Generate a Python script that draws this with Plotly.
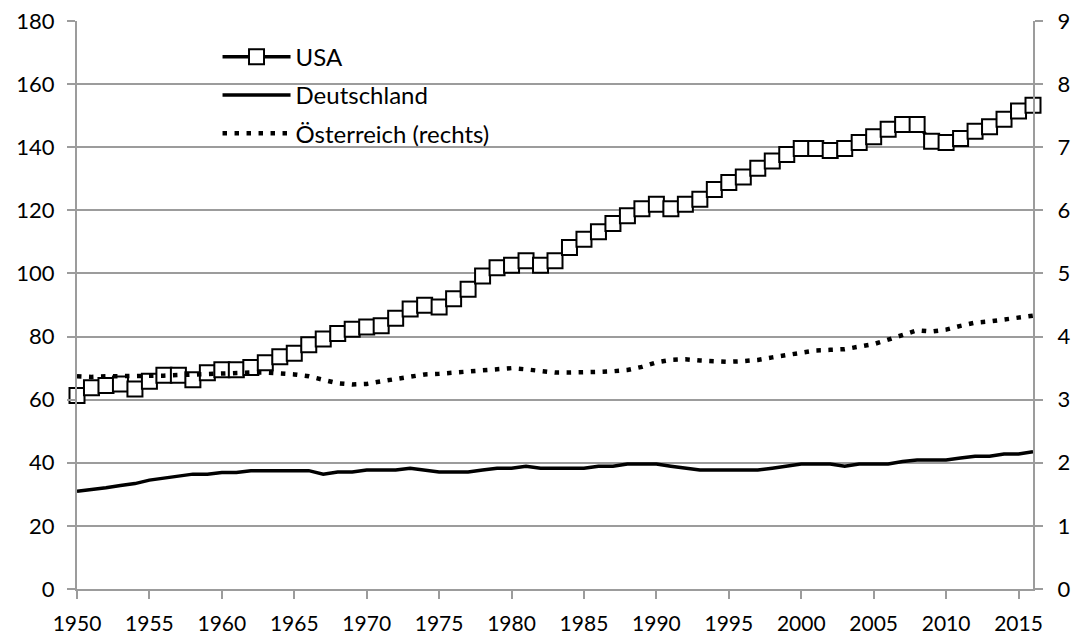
"""
plot.py

Output per hour worked: USA and Deutschland on the left axis,
Österreich on the right axis (dotted line).
"""

import plotly.graph_objects as go

years = list(range(1950, 2017))

usa_values = [
    61.3, 63.8, 64.5, 65.0, 63.4, 65.8, 67.7, 67.7, 66.3, 68.5,
    69.5, 69.5, 70.2, 71.7, 73.6, 74.7, 77.4, 79.2, 81.0, 82.3,
    83.0, 83.4, 85.8, 88.7, 89.9, 89.4, 92.0, 95.0, 99.2, 101.8,
    102.6, 104.0, 102.6, 104.0, 108.2, 110.8, 113.2, 115.8, 118.3, 120.5,
    121.9, 120.5, 121.9, 123.5, 126.6, 128.8, 130.6, 133.3, 135.6, 137.7,
    139.6, 139.6, 139.0, 139.6, 141.5, 143.3, 145.7, 147.2, 147.2, 141.9,
    141.5, 142.8, 145.1, 146.5, 148.9, 151.5, 153.3
]

deutschland_values = [
    31.0, 31.5, 32.1, 32.8, 33.4, 34.5, 35.1, 35.7, 36.4, 36.4,
    36.9, 36.9, 37.5, 37.5, 37.5, 37.5, 37.5, 36.4, 37.1, 37.1,
    37.7, 37.7, 37.7, 38.3, 37.7, 37.1, 37.1, 37.1, 37.7, 38.3,
    38.3, 38.9, 38.3, 38.3, 38.3, 38.3, 38.9, 38.9, 39.6, 39.6,
    39.6, 38.9, 38.3, 37.7, 37.7, 37.7, 37.7, 37.7, 38.3, 38.9,
    39.6, 39.6, 39.6, 38.9, 39.6, 39.6, 39.6, 40.4, 40.9, 40.9,
    40.9, 41.5, 42.1, 42.1, 42.8, 42.8, 43.5
]

oesterreich_values = [
    3.37, 3.36, 3.37, 3.37, 3.37, 3.38, 3.38, 3.39, 3.40, 3.41,
    3.42, 3.43, 3.43, 3.43, 3.42, 3.40, 3.37, 3.31, 3.26, 3.24,
    3.25, 3.29, 3.33, 3.37, 3.40, 3.41, 3.43, 3.45, 3.47, 3.48,
    3.50, 3.48, 3.45, 3.43, 3.43, 3.43, 3.44, 3.45, 3.47, 3.52,
    3.59, 3.63, 3.64, 3.62, 3.61, 3.60, 3.61, 3.63, 3.67, 3.71,
    3.75, 3.78, 3.79, 3.80, 3.84, 3.88, 3.95, 4.03, 4.10, 4.08,
    4.11, 4.17, 4.22, 4.24, 4.27, 4.29, 4.33
]

x_tick_values = list(range(1950, 2016, 5))
left_tick_values = list(range(0, 181, 20))
right_tick_values = list(range(0, 10))

FONT_FAMILY = "Lato, 'Open Sans', sans-serif"
AXIS_GRAY = "#9c9c9c"


def axis_style(standoff, font_size=22):
    """Shared look of the gray axes with outside ticks."""
    return {
        "ticks": "outside",
        "ticklen": 8,
        "tickwidth": 2,
        "tickcolor": AXIS_GRAY,
        "ticklabelstandoff": standoff,
        "zeroline": False,
        "showline": True,
        "linecolor": AXIS_GRAY,
        "linewidth": 2,
        "automargin": False,
        "tickfont": {"size": font_size}
    }


figure = go.Figure()

figure.add_trace(
    go.Scatter(
        x=years,
        y=usa_values,
        name="USA",
        legendgroup="usa",
        mode="lines+markers",
        line={"color": "black", "width": 3.5},
        marker={
            "symbol": "square",
            "size": 15,
            "color": "white",
            "line": {"color": "black", "width": 2}
        },
        cliponaxis=False
    )
)

figure.add_trace(
    go.Scatter(
        x=years,
        y=deutschland_values,
        name="Deutschland",
        legendgroup="de",
        mode="lines",
        line={"color": "black", "width": 3.5}
    )
)

figure.add_trace(
    go.Scatter(
        x=years,
        y=oesterreich_values,
        name="Österreich (rechts)",
        legendgroup="at",
        mode="lines",
        line={"color": "black", "width": 4.5, "dash": "4.5px,7.5px"},
        yaxis="y2"
    )
)

figure.update_layout(
    width=1077,
    height=637,
    margin={"l": 76.5, "r": 43.5, "t": 20.7, "b": 47.7},
    paper_bgcolor="white",
    plot_bgcolor="white",
    font={"family": FONT_FAMILY, "size": 22, "color": "black"},
    showlegend=True,
    legend={
        "x": 0.147,
        "y": 0.976,
        "xanchor": "left",
        "yanchor": "top",
        "bgcolor": "rgba(0,0,0,0)",
        "itemwidth": 68,
        "tracegroupgap": 4,
        "font": {"family": FONT_FAMILY, "size": 24, "color": "black"}
    },
    xaxis={
        **axis_style(7, 21),
        "range": [1950, 2016],
        "tickmode": "array",
        "tickvals": x_tick_values,
        "showgrid": False
    },
    yaxis={
        **axis_style(8),
        "range": [0, 180],
        "tickmode": "array",
        "tickvals": left_tick_values,
        "showgrid": True,
        "gridcolor": AXIS_GRAY,
        "gridwidth": 2
    },
    yaxis2={
        **axis_style(10),
        "range": [0, 9],
        "overlaying": "y",
        "side": "right",
        "tickmode": "array",
        "tickvals": right_tick_values,
        "showgrid": False
    }
)

# the default page keeps an 8px body margin; drop it so the figure fills the window
figure.write_html(
    "out.html",
    config={"displayModeBar": False},
    post_script="document.body.style.margin = '0px';"
)
